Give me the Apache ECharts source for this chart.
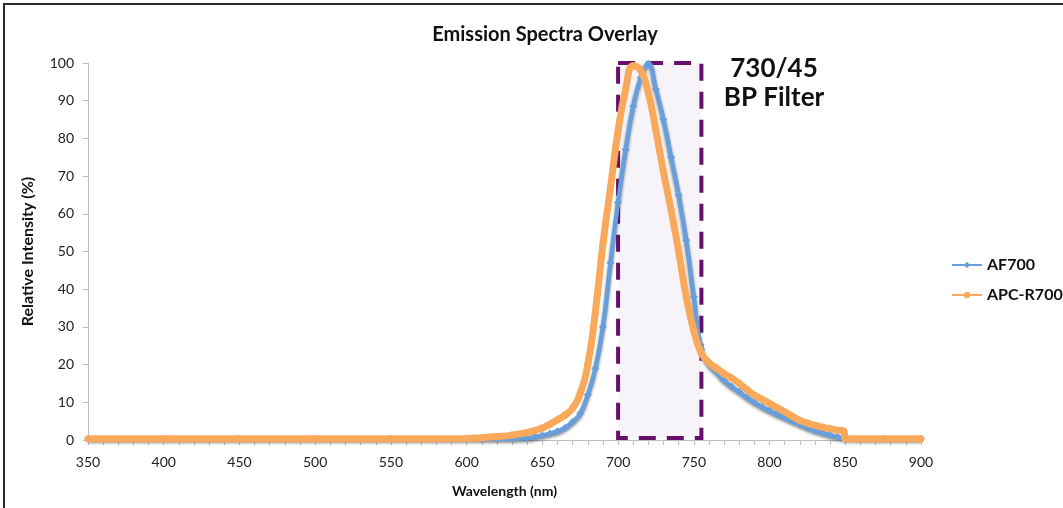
<!DOCTYPE html>
<html>
<head>
<meta charset="utf-8">
<title>Emission Spectra Overlay</title>
<script src="https://cdn.jsdelivr.net/npm/echarts@6/dist/echarts.min.js"></script>
<style>
  html, body { margin: 0; padding: 0; background: #fff; }
  #wrap { position: relative; width: 1063px; height: 508px; }
  #chart { width: 1063px; height: 508px; }
  #frame {
    position: absolute; left: 3px; top: 3px; right: 0; bottom: 0;
    border-top: 2px solid #2a2a2a; border-left: 2px solid #2a2a2a;
    pointer-events: none;
  }
</style>
</head>
<body>
<div id="wrap">
  <div id="chart"></div>
  <div id="frame"></div>
</div>
<script>
// wavelengths (nm) shared by both spectra
const wavelengths = [350, 400, 450, 500, 550, 600, 610, 620, 630, 640, 645, 650, 655, 660, 665, 670,
  675, 680, 685, 690, 695, 700, 705, 710, 715, 720, 725, 730, 735, 740, 745, 750, 755, 760, 765,
  770, 775, 780, 785, 790, 795, 800, 805, 810, 815, 820, 825, 830, 835, 840, 845, 849, 850, 875, 900]

// relative intensity (%)
const af700 = [0.3, 0.3, 0.3, 0.3, 0.3, 0.3, 0.3, 0.3, 0.3, 0.5, 0.8, 1.2, 1.7, 2.3, 3.2, 4.8,
  7, 12, 19, 30, 47, 63, 77, 88.5, 96, 99.8, 93, 85, 75, 65, 53, 38, 24, 20, 18,
  15.8, 14.2, 12.8, 11.3, 10, 8.8, 7.8, 6.8, 5.9, 5.0, 4.1, 3.3, 2.5, 1.9, 1.3, 0.8, 0.5, 0.4, 0.3, 0.3]

const apcR700 = [0.3, 0.3, 0.3, 0.3, 0.3, 0.4, 0.6, 0.9, 1.3, 2.0, 2.5, 3.2, 4.2, 5.4, 6.6, 8.5,
  12.4, 20, 34, 52, 67, 82, 93, 99.3, 98, 92, 82, 71, 61, 50, 38, 29, 23, 20.5, 19,
  17.6, 16.4, 15, 13.4, 11.9, 10.8, 9.7, 8.6, 7.5, 6.3, 5.2, 4.5, 3.9, 3.4, 3.0, 2.6, 2.4, 0.4, 0.3, 0.3]

// 730/45 band-pass filter window as drawn
const filterBand = { from: 700, to: 755, low: 0.5, high: 102.6 }
const filterLabel = ['730/45', 'BP Filter']

const xTicks = { min: 350, max: 900, step: 50 }
const yTicks = { min: 0, max: 100, step: 10 }

const pairs = (vals) => wavelengths.map((w, i) => [w, vals[i]])

const font = 'Lato, "Open Sans", sans-serif'
const axisGray = '#bfbfbf'

const chart = echarts.init(document.getElementById('chart'))

chart.setOption({
  animation: false,
  textStyle: { fontFamily: font },
  title: {
    text: 'Emission Spectra Overlay',
    left: 540, top: 20, textAlign: 'center',
    textStyle: { fontFamily: font, fontSize: 20, fontWeight: 'bold', color: '#111' }
  },
  legend: {
    orient: 'vertical',
    left: 946, top: 252,
    itemWidth: 30, itemHeight: 8, itemGap: 14,
    textStyle: { fontFamily: font, fontSize: 16, fontWeight: 'bold', color: '#111' },
    data: ['AF700', 'APC-R700']
  },
  grid: { left: 88, right: 142, top: 63, bottom: 68 },
  xAxis: {
    type: 'value',
    min: xTicks.min, max: xTicks.max, interval: xTicks.step,
    name: 'Wavelength (nm)', nameLocation: 'middle', nameGap: 44,
    nameTextStyle: { fontFamily: font, fontSize: 14, fontWeight: 'bold', color: '#111' },
    axisLine: { lineStyle: { color: axisGray, width: 1 } },
    axisTick: { length: 5, lineStyle: { color: axisGray } },
    minorTick: { show: true, splitNumber: 5, length: 5, lineStyle: { color: axisGray } },
    axisLabel: { fontSize: 14, color: '#222', margin: 15 },
    splitLine: { show: false }
  },
  yAxis: {
    type: 'value',
    min: yTicks.min, max: yTicks.max, interval: yTicks.step,
    name: 'Relative Intensity (%)', nameLocation: 'middle', nameGap: 52,
    nameTextStyle: { fontFamily: font, fontSize: 16, fontWeight: 'bold', color: '#111' },
    axisLine: { show: true, lineStyle: { color: axisGray, width: 1 } },
    axisTick: { show: true, length: 5, lineStyle: { color: axisGray } },
    axisLabel: { fontSize: 14, color: '#222', margin: 14 },
    splitLine: { show: false }
  },
  series: [
    {
      name: 'AF700',
      type: 'line',
      data: pairs(af700),
      smooth: 0.5,
      clip: false,
      symbol: 'diamond',
      symbolSize: 8,
      itemStyle: { color: '#669fdb' },
      lineStyle: {
        color: '#669fdb', width: 4.5,
        shadowColor: 'rgba(0,0,0,0.45)', shadowBlur: 3, shadowOffsetY: 2
      },
      z: 2,
      markArea: {
        silent: true,
        itemStyle: {
          color: '#f7f4f9',
          borderColor: '#66106b',
          borderWidth: 4,
          borderType: [17, 11]
        },
        data: [[
          { coord: [filterBand.from, filterBand.high] },
          { coord: [filterBand.to, filterBand.low] }
        ]]
      }
    },
    {
      name: 'APC-R700',
      type: 'line',
      data: pairs(apcR700),
      smooth: 0.5,
      symbol: 'circle',
      symbolSize: 7,
      itemStyle: { color: '#f9a95b' },
      lineStyle: { color: '#f9a95b', width: 7 },
      z: 3
    }
  ],
  graphic: [{
    type: 'text',
    x: 774, y: 54,
    style: {
      text: filterLabel.join('\n'),
      fontFamily: font, fontSize: 26, fontWeight: 'bold',
      fill: '#111', align: 'center', lineHeight: 29
    }
  }]
})
</script>
</body>
</html>
